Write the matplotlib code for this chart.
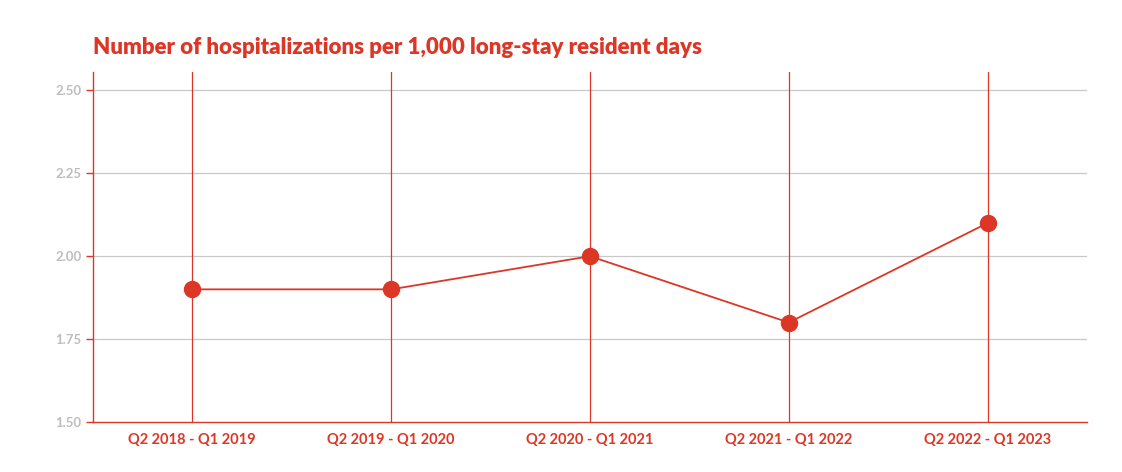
import matplotlib
matplotlib.use("Agg")
import matplotlib.pyplot as plt

# values
periods = ["Q2 2018 - Q1 2019", "Q2 2019 - Q1 2020", "Q2 2020 - Q1 2021",
           "Q2 2021 - Q1 2022", "Q2 2022 - Q1 2023"]
rates = [1.90, 1.90, 2.00, 1.80, 2.10]
y_ticks = [1.50, 1.75, 2.00, 2.25, 2.50]

RED = "#dc3626"
GRAY = "#bdbdbd"

plt.rcParams["font.family"] = ["Lato", "DejaVu Sans"]

fig = plt.figure(figsize=(11.22, 4.72), dpi=100)
ax = fig.add_axes([0.0828, 0.106, 0.886, 0.741])

x = list(range(len(periods)))
for xi in x:
    ax.axvline(xi, color=RED, lw=0.9, zorder=1)
for yt in y_ticks[1:]:
    ax.axhline(yt, color="#c8c8c8", lw=0.9, zorder=0)

ax.plot(x, rates, color=RED, lw=1.3, marker="o", markersize=11.5, zorder=3)

ax.set_xlim(-0.5, 4.5)
ax.set_ylim(1.5, 2.555)
ax.set_xticks(x)
ax.set_xticklabels(periods, color=RED, fontsize=10.5, fontweight="bold")
ax.set_yticks(y_ticks)
ax.set_yticklabels([f"{v:.2f}" for v in y_ticks], color=GRAY, fontsize=9.5, fontweight="bold")
ax.tick_params(axis="x", length=0, pad=8)
ax.tick_params(axis="y", length=5, color=RED, width=1, pad=3)

for side in ("top", "right"):
    ax.spines[side].set_visible(False)
for side in ("left", "bottom"):
    ax.spines[side].set_color(RED)
    ax.spines[side].set_linewidth(1)

fig.text(0.083, 0.885, "Number of hospitalizations per 1,000 long-stay resident days",
         color=RED, fontsize=16, fontweight="heavy")

fig.savefig("out.png", dpi=100)
